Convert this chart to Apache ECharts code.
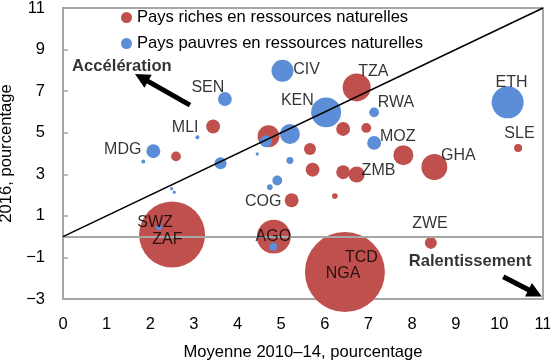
<!DOCTYPE html>
<html><head><meta charset="utf-8">
<script src="https://cdn.jsdelivr.net/npm/echarts@6/dist/echarts.min.js"></script>
<style>html,body{margin:0;padding:0;background:#fff}#c{width:550px;height:364px}</style>
</head><body><div id="c"></div>
<script>
// [x = moyenne 2010-14, y = 2016, weight]
const richPoints = [
  [2.50, 0.10, 272], [6.46, -1.70, 400], [4.83, 0.00, 72], [8.43, -0.30, 9],
  [8.51, 3.35, 42], [7.80, 3.92, 25], [10.43, 4.27, 4], [6.95, 5.23, 6],
  [6.73, 7.18, 49], [6.42, 5.18, 12], [5.66, 4.22, 9], [5.72, 3.22, 12],
  [6.42, 3.10, 12], [6.73, 2.99, 16], [4.71, 4.83, 30], [3.44, 5.30, 12],
  [2.59, 3.86, 6], [5.24, 1.75, 12], [6.23, 1.95, 2]
];
const poorPoints = [
  [10.19, 6.46, 64], [7.13, 5.98, 6], [7.13, 4.51, 12], [6.03, 5.98, 56],
  [5.03, 7.98, 30], [5.20, 4.94, 25], [4.65, 4.59, 9], [5.20, 3.66, 3],
  [4.91, 2.70, 6], [4.74, 2.38, 2], [4.45, 3.98, 0.6], [3.61, 3.53, 9],
  [3.08, 4.78, 1], [3.71, 6.62, 12], [2.07, 4.11, 12], [1.84, 3.62, 1],
  [2.49, 2.31, 0.6], [2.55, 2.14, 0.6], [2.20, 0.44, 2], [4.82, -0.49, 4]
];
const countryNames = ['SEN','MLI','MDG','CIV','TZA','ETH','KEN','RWA','MOZ','SLE','GHA','ZMB','COG','AGO','TCD','NGA','ZWE','SWZ','ZAF'];
const countryLabelPos = [
  [3.32, 7.16], [2.80, 5.25], [1.37, 4.19], [5.58, 8.03], [7.11, 7.93], [10.28, 7.42],
  [5.37, 6.54], [7.63, 6.46], [7.67, 4.81], [10.46, 4.94], [9.06, 3.90], [7.23, 3.18],
  [4.59, 1.71], [4.82, 0.00], [6.84, -1.02], [6.42, -1.80], [8.41, 0.63], [2.11, 0.68], [2.39, -0.12]
];
const seriesNames = ['Pays riches en ressources naturelles', 'Pays pauvres en ressources naturelles'];
const xTicks = {min: 0, max: 11, interval: 1};
const yTicks = {min: -3, max: 11, interval: 2};
const xTitle = 'Moyenne 2010–14, pourcentage';
const yTitle = '2016, pourcentage';
const accelText = 'Accélération';
const slowText = 'Ralentissement';
const accelArrow = [[2.91, 6.33], [1.80, 7.65]];
const slowArrow = [[10.09, -1.93], [10.82, -2.72]];
const accelTextPos = [1.35, 8.18];
const slowTextPos = [9.33, -1.21];

const FONT = 'Liberation Sans, Arial, sans-serif';
const FS = 16.6;
const RED = '#C0504D', BLUE = '#5B8ED6';
const sizeFn = d => 4 * Math.sqrt(d[2]);
const minus = v => String(v).replace('-', '\u2212');

const chart = echarts.init(document.getElementById('c'), null, {renderer: 'canvas'});
chart.setOption({
  animation: false,
  textStyle: {fontFamily: FONT},
  grid: {left: 63, right: 7, top: 8, bottom: 65, containLabel: false, outerBoundsMode: 'none',
         show: true, borderColor: '#A6A6A6', borderWidth: 2, backgroundColor: 'transparent'},
  legend: {
    orient: 'vertical', left: 116, top: 4, itemGap: 9, itemWidth: 11, itemHeight: 11,
    icon: 'circle', data: seriesNames,
    textStyle: {fontFamily: FONT, fontSize: FS, color: '#000'}
  },
  xAxis: {
    type: 'value', min: xTicks.min, max: xTicks.max, interval: xTicks.interval,
    name: xTitle, nameLocation: 'middle', nameGap: 45,
    nameTextStyle: {fontFamily: FONT, fontSize: FS, color: '#000'},
    axisLine: {show: true, onZero: false, lineStyle: {color: '#A6A6A6', width: 2}},
    axisTick: {show: false}, splitLine: {show: false},
    axisLabel: {fontFamily: FONT, fontSize: 16.5, color: '#000', margin: 17}
  },
  yAxis: {
    type: 'value', min: yTicks.min, max: yTicks.max, interval: yTicks.interval,
    name: yTitle, nameLocation: 'middle', nameGap: 45,
    nameTextStyle: {fontFamily: FONT, fontSize: FS, color: '#000'},
    axisLine: {show: true, onZero: false, lineStyle: {color: '#A6A6A6', width: 2}},
    axisTick: {show: true, inside: true, length: 5, lineStyle: {color: '#A6A6A6', width: 1.5}},
    splitLine: {show: false},
    axisLabel: {fontFamily: FONT, fontSize: 16.5, color: '#000', margin: 18, formatter: minus}
  },
  series: [
    {
      name: seriesNames[0], type: 'scatter', data: richPoints, symbolSize: sizeFn,
      itemStyle: {color: RED, opacity: 1}, z: 2
    },
    {
      name: seriesNames[1], type: 'scatter', data: poorPoints, symbolSize: sizeFn,
      itemStyle: {color: BLUE, opacity: 1}, z: 3
    },
    {
      type: 'line', data: [], z: 4, silent: true,
      markLine: {
        silent: true, symbol: ['none', 'none'], label: {show: false}, animation: false,
        data: [
          [{coord: [0, 0], lineStyle: {color: '#A6A6A6', width: 2, type: 'solid'}}, {coord: [11, 0]}],
          [{coord: [0, 0], lineStyle: {color: '#000', width: 1.6, type: 'solid'}}, {coord: [11, 11]}]
        ]
      }
    },
    {
      type: 'line', data: [], z: 5, silent: true,
      markLine: {
        silent: true, symbol: ['none', 'triangle'], symbolSize: [15, 15], label: {show: false}, animation: false,
        lineStyle: {color: '#000', width: 5, type: 'solid'},
        itemStyle: {color: '#000'},
        data: [
          [{coord: accelArrow[0]}, {coord: accelArrow[1]}],
          [{coord: slowArrow[0]}, {coord: slowArrow[1]}]
        ]
      }
    },
    {
      type: 'scatter', z: 6, silent: true, symbolSize: 0,
      data: countryNames.map((n, i) => ({name: n, value: countryLabelPos[i]})),
      label: {show: true, position: 'inside', formatter: p => p.name, fontFamily: FONT, fontSize: 16, color: '#000'}
    },
    {
      type: 'scatter', z: 6, silent: true, symbolSize: 0,
      data: [{name: accelText, value: accelTextPos}, {name: slowText, value: slowTextPos}],
      label: {show: true, position: 'inside', formatter: p => p.name, fontFamily: FONT, fontSize: FS, fontWeight: 'bold', color: '#000'}
    }
  ]
});
</script></body></html>
